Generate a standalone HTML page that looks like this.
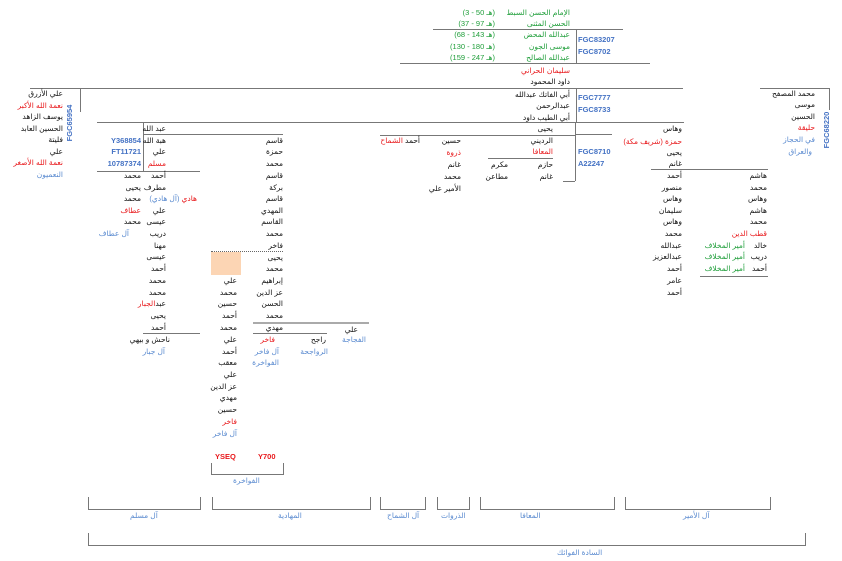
<!DOCTYPE html>
<html><head><meta charset="utf-8"><style>
body{margin:0;width:842px;height:561px;background:#fff;position:relative;overflow:hidden;font-family:"Liberation Sans","DejaVu Sans",sans-serif}
.t{position:absolute;font-size:7.5px;line-height:10px;white-space:nowrap;direction:rtl;color:#111}
.l{position:absolute;font-size:7.5px;line-height:10px;white-space:nowrap;font-weight:bold;color:#4472c4}
.rot{width:44px;text-align:center;transform:rotate(-90deg)}
.r{color:#e8191c}.g{color:#1f9e3a}.b{color:#5b8bd0}
.h{position:absolute;height:1px;background:#777}
.v{position:absolute;width:1px;background:#777}
</style></head><body>
<!-- top green -->
<div class="t g" style="right:272px;top:8px">الإمام الحسن السبط</div><div class="t g" style="right:347px;top:8px;direction:ltr">(هـ 50 - 3)</div>
<div class="t g" style="right:272px;top:19px">الحسن المثنى</div><div class="t g" style="right:347px;top:19px;direction:ltr">(هـ 97 - 37)</div>
<div class="t g" style="right:272px;top:30px">عبدالله المحض</div><div class="t g" style="right:347px;top:30px;direction:ltr">(هـ 143 - 68)</div>
<div class="t g" style="right:272px;top:42px">موسى الجون</div><div class="t g" style="right:347px;top:42px;direction:ltr">(هـ 180 - 130)</div>
<div class="t g" style="right:272px;top:53px">عبدالله الصالح</div><div class="t g" style="right:347px;top:53px;direction:ltr">(هـ 247 - 159)</div>
<div class="h" style="left:433px;top:29px;width:190px"></div>
<div class="v" style="left:576px;top:29px;height:34px"></div>
<div class="l" style="left:578px;top:35px">FGC83207</div><div class="l" style="left:578px;top:47px">FGC8702</div>
<div class="h" style="left:400px;top:63px;width:250px"></div>
<div class="t r" style="right:272px;top:66px">سليمان الحراني</div>
<div class="t" style="right:272px;top:77px">داود المحمود</div>
<div class="h" style="left:30px;top:88px;width:653px"></div>
<div class="v" style="left:576px;top:88px;height:34px"></div>
<div class="t" style="right:272px;top:90px">أبي الفاتك عبدالله</div>
<div class="t" style="right:272px;top:101px">عبدالرحمن</div>
<div class="t" style="right:272px;top:113px">أبي الطيب داود</div>
<div class="l" style="left:578px;top:93px">FGC7777</div><div class="l" style="left:578px;top:105px">FGC8733</div>
<div class="h" style="left:97px;top:122px;width:587px"></div>
<!-- far right -->
<div class="h" style="left:760px;top:88px;width:69px"></div>
<div class="v" style="left:829px;top:88px;height:22px"></div>
<div class="t" style="right:27px;top:89px">محمد المصفح</div>
<div class="t" style="right:27px;top:100px">موسى</div>
<div class="t" style="right:27px;top:112px">الحسين</div>
<div class="t r" style="right:27px;top:123px">حليقة</div>
<div class="t b" style="right:27px;top:135px">في الحجاز</div>
<div class="t b" style="right:30px;top:147px">والعراق</div>
<div class="l rot" style="left:805px;top:125px">FGC68220</div>
<!-- far left -->
<div class="v" style="left:80px;top:88px;height:24px"></div>
<div class="t" style="right:779px;top:89px">علي الأزرق</div>
<div class="t r" style="right:779px;top:101px">نعمة الله الأكبر</div>
<div class="t" style="right:779px;top:112px">يوسف الزاهد</div>
<div class="t" style="right:779px;top:124px">الحسين العابد</div>
<div class="t" style="right:779px;top:135px">فليتة</div>
<div class="t" style="right:779px;top:147px">علي</div>
<div class="t r" style="right:779px;top:158px">نعمة الله الأصغر</div>
<div class="t b" style="right:779px;top:170px">النعميون</div>
<div class="l rot" style="left:48px;top:118px">FGC65954</div>
<!-- right col -->
<div class="t" style="right:160px;top:124px">وهاس</div>
<div class="t r" style="right:160px;top:137px">حمزة (شريف مكة)</div>
<div class="h" style="left:576px;top:134px;width:36px"></div>
<div class="t" style="right:160px;top:148px">يحيى</div>
<div class="t" style="right:160px;top:159px">غانم</div>
<div class="h" style="left:651px;top:169px;width:117px"></div>
<div class="t" style="right:160px;top:171px">أحمد</div>
<div class="t" style="right:160px;top:183px">منصور</div>
<div class="t" style="right:160px;top:194px">وهاس</div>
<div class="t" style="right:160px;top:206px">سليمان</div>
<div class="t" style="right:160px;top:217px">وهاس</div>
<div class="t" style="right:160px;top:229px">محمد</div>
<div class="t" style="right:160px;top:241px">عبدالله</div>
<div class="t" style="right:160px;top:252px">عبدالعزيز</div>
<div class="t" style="right:160px;top:264px">أحمد</div>
<div class="t" style="right:160px;top:276px">عامر</div>
<div class="t" style="right:160px;top:288px">أحمد</div>
<div class="t" style="right:75px;top:171px">هاشم</div>
<div class="t" style="right:75px;top:183px">محمد</div>
<div class="t" style="right:75px;top:194px">وهاس</div>
<div class="t" style="right:75px;top:206px">هاشم</div>
<div class="t" style="right:75px;top:217px">محمد</div>
<div class="t r" style="right:75px;top:229px">قطب الدين</div>
<div class="t" style="right:75px;top:241px">خالد</div><div class="t g" style="right:97px;top:241px">أمير المخلاف</div>
<div class="t" style="right:75px;top:252px">دريب</div><div class="t g" style="right:97px;top:252px">أمير المخلاف</div>
<div class="t" style="right:75px;top:264px">أحمد</div><div class="t g" style="right:97px;top:264px">أمير المخلاف</div>
<div class="h" style="left:700px;top:276px;width:68px"></div>
<!-- middle -->
<div class="v" style="left:575px;top:122px;height:59px"></div>
<div class="h" style="left:563px;top:181px;width:12px"></div>
<div class="l" style="left:578px;top:147px">FGC8710</div><div class="l" style="left:578px;top:159px">A22247</div>
<div class="t" style="right:289px;top:124px">يحيى</div>
<div class="h" style="left:380px;top:135px;width:195px"></div>
<div class="t" style="right:289px;top:136px">الرديني</div>
<div class="t r" style="right:289px;top:147px">المعافا</div>
<div class="h" style="left:488px;top:158px;width:65px"></div>
<div class="t" style="right:289px;top:160px">حازم</div><div class="t" style="right:334px;top:160px">مكرم</div>
<div class="t" style="right:289px;top:172px">غانم</div><div class="t" style="right:334px;top:172px">مطاعن</div>
<div class="t" style="right:381px;top:136px">حسين</div>
<div class="t r" style="right:381px;top:148px">ذروة</div>
<div class="t" style="right:381px;top:160px">غانم</div>
<div class="t" style="right:381px;top:172px">محمد</div>
<div class="t" style="right:381px;top:184px">الأمير علي</div>
<div class="t" style="right:422px;top:136px">أحمد <span class="r">الشماح</span></div>
<!-- left block -->
<div class="v" style="left:143px;top:122px;height:49px"></div>
<div class="h" style="left:143px;top:134px;width:57px"></div>
<div class="t" style="right:676px;top:124px">عبد الله</div>
<div class="t" style="right:676px;top:136px">هبة الله</div>
<div class="t" style="right:676px;top:147px">علي</div>
<div class="t r" style="right:676px;top:159px">مسلم</div>
<div class="l" style="right:701px;top:136px">Y368854</div>
<div class="l" style="right:701px;top:147px">FT11721</div>
<div class="l" style="right:701px;top:159px">10787374</div>
<div class="h" style="left:97px;top:171px;width:103px"></div>
<div class="t" style="right:676px;top:171px">أحمد</div>
<div class="t" style="right:676px;top:183px">مطرف</div>
<div class="t" style="right:645px;top:194px"><span class="r">هادي</span> <span class="b">(آل هادي)</span></div>
<div class="t" style="right:676px;top:206px">علي</div>
<div class="t" style="right:676px;top:217px">عيسى</div>
<div class="t" style="right:676px;top:229px">دريب</div>
<div class="t" style="right:676px;top:241px">مهنا</div>
<div class="t" style="right:676px;top:252px">عيسى</div>
<div class="t" style="right:676px;top:264px">أحمد</div>
<div class="t" style="right:676px;top:276px">محمد</div>
<div class="t" style="right:676px;top:288px">محمد</div>
<div class="t" style="right:676px;top:299px">عبد<span class="r">الجبار</span></div>
<div class="t" style="right:676px;top:311px">يحيى</div>
<div class="t" style="right:676px;top:323px">أحمد</div>
<div class="h" style="left:143px;top:333px;width:57px"></div>
<div class="t" style="right:672px;top:335px">ناحش و بيهي</div>
<div class="t b" style="right:677px;top:347px">آل جبار</div>
<div class="t" style="right:701px;top:171px">محمد</div>
<div class="t" style="right:701px;top:183px">يحيى</div>
<div class="t" style="right:701px;top:194px">محمد</div>
<div class="t r" style="right:701px;top:206px">عطاف</div>
<div class="t" style="right:701px;top:217px">محمد</div>
<div class="t b" style="right:713px;top:229px">آل عطاف</div>
<!-- center-left -->
<div class="h" style="left:200px;top:134px;width:83px"></div>
<div class="t" style="right:559px;top:136px">قاسم</div>
<div class="t" style="right:559px;top:147px">حمزة</div>
<div class="t" style="right:559px;top:159px">محمد</div>
<div class="t" style="right:559px;top:171px">قاسم</div>
<div class="t" style="right:559px;top:183px">بركة</div>
<div class="t" style="right:559px;top:194px">قاسم</div>
<div class="t" style="right:559px;top:206px">المهدي</div>
<div class="t" style="right:559px;top:217px">القاسم</div>
<div class="t" style="right:559px;top:229px">محمد</div>
<div class="t" style="right:559px;top:241px">فاخر</div>
<div style="position:absolute;left:211px;top:251px;width:72px;border-top:1px dotted #666"></div>
<div style="position:absolute;left:211px;top:252px;width:30px;height:23px;background:#fcd5b4"></div>
<div class="t" style="right:559px;top:253px">يحيى</div>
<div class="t" style="right:559px;top:264px">محمد</div>
<div class="t" style="right:559px;top:276px">إبراهيم</div>
<div class="t" style="right:559px;top:288px">عز الدين</div>
<div class="t" style="right:559px;top:299px">الحسن</div>
<div class="t" style="right:559px;top:311px">محمد</div>
<div class="h" style="left:253px;top:322px;width:116px;background:#aaa;height:2px"></div>
<div class="t" style="right:559px;top:323px">مهدي</div>
<div class="h" style="left:253px;top:333px;width:74px"></div>
<div class="t" style="right:605px;top:276px">علي</div>
<div class="t" style="right:605px;top:288px">محمد</div>
<div class="t" style="right:605px;top:299px">حسين</div>
<div class="t" style="right:605px;top:311px">أحمد</div>
<div class="t" style="right:605px;top:323px">محمد</div>
<div class="t" style="right:605px;top:335px">علي</div>
<div class="t" style="right:605px;top:347px">أحمد</div>
<div class="t" style="right:605px;top:358px">معقب</div>
<div class="t" style="right:605px;top:370px">علي</div>
<div class="t" style="right:605px;top:382px">عز الدين</div>
<div class="t" style="right:605px;top:393px">مهدي</div>
<div class="t" style="right:605px;top:405px">حسين</div>
<div class="t r" style="right:605px;top:417px">فاخر</div>
<div class="t b" style="right:605px;top:429px">آل فاخر</div>
<div class="t r" style="right:567px;top:335px">فاخر</div>
<div class="t b" style="right:563px;top:347px">آل فاخر</div>
<div class="t b" style="right:563px;top:358px">الفواخرة</div>
<div class="t" style="right:516px;top:335px">راجح</div>
<div class="t b" style="right:514px;top:347px">الرواجحة</div>
<div class="t" style="right:484px;top:325px">علي</div>
<div class="t b" style="right:476px;top:335px">الفجاجة</div>
<div class="l r" style="left:215px;top:452px">YSEQ</div>
<div class="l r" style="left:258px;top:452px">Y700</div>
<div style="position:absolute;left:211px;top:463px;width:71px;height:11px;border:1px solid #777;border-top:none"></div>
<div class="t b" style="left:233px;top:476px;direction:rtl">الفواخرة</div>
<!-- bottom brackets -->
<div style="position:absolute;left:88px;top:497px;width:111px;height:12px;border:1px solid #777;border-top:none"></div>
<div style="position:absolute;left:212px;top:497px;width:157px;height:12px;border:1px solid #777;border-top:none"></div>
<div style="position:absolute;left:380px;top:497px;width:44px;height:12px;border:1px solid #777;border-top:none"></div>
<div style="position:absolute;left:437px;top:497px;width:31px;height:12px;border:1px solid #777;border-top:none"></div>
<div style="position:absolute;left:480px;top:497px;width:133px;height:12px;border:1px solid #777;border-top:none"></div>
<div style="position:absolute;left:625px;top:497px;width:144px;height:12px;border:1px solid #777;border-top:none"></div>
<div class="t b" style="left:130px;top:511px">آل مسلم</div>
<div class="t b" style="left:278px;top:511px">المهادية</div>
<div class="t b" style="left:387px;top:511px">آل الشماح</div>
<div class="t b" style="left:441px;top:511px">الذروات</div>
<div class="t b" style="left:520px;top:511px">المعافا</div>
<div class="t b" style="left:683px;top:511px">آل الأمير</div>
<div style="position:absolute;left:88px;top:533px;width:716px;height:12px;border:1px solid #777;border-top:none"></div>
<div class="t b" style="left:557px;top:548px">السادة الفوائك</div>
</body></html>
